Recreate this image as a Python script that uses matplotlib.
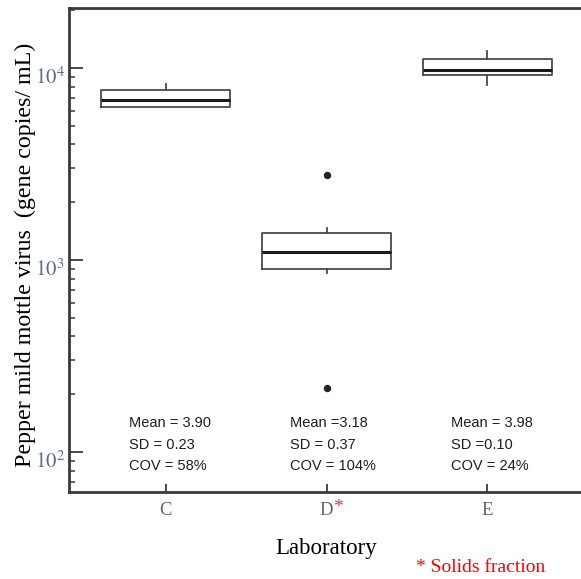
import matplotlib
matplotlib.use('Agg')
import matplotlib.pyplot as plt
import matplotlib.transforms as mtransforms
from matplotlib.ticker import LogLocator, NullFormatter

# ---- data ----
labs = ['C', 'D', 'E']
q1 = [6270, 895, 9160]
med = [6840, 1101, 9760]
q3 = [7650, 1377, 11100]
whislo = [6270, 853, 8190]
whishi = [8260, 1472, 12260]
fliers = [[], [2772, 215], []]
mean_txt = ['Mean = 3.90', 'Mean =3.18', 'Mean = 3.98']
sd_txt = ['SD = 0.23', 'SD = 0.37', 'SD =0.10']
cov_txt = ['COV = 58%', 'COV = 104%', 'COV = 24%']
ytick_vals = [1e2, 1e3, 1e4]
ytick_labels = [r'$10^2$', r'$10^3$', r'$10^4$']

plt.rcParams['mathtext.fontset'] = 'stix'
serif = ['Liberation Serif', 'DejaVu Serif']
sans = ['Liberation Sans', 'DejaVu Sans']

fig = plt.figure(figsize=(5.81, 5.79), dpi=100)
W, H = 581, 579
ax = fig.add_axes([69 / W, (H - 492) / H, (584 - 69) / W, 484 / H])

stats = []
for i in range(len(labs)):
    stats.append(dict(med=med[i], q1=q1[i], q3=q3[i], whislo=whislo[i],
                      whishi=whishi[i], fliers=fliers[i], label=labs[i]))
pos = list(range(1, len(labs) + 1))
lc = '#4a4a4a'
ax.bxp(stats, positions=pos, widths=0.8, showcaps=False,
       boxprops=dict(color=lc, linewidth=1.3),
       whiskerprops=dict(color=lc, linewidth=1.3),
       medianprops=dict(color='#1a1a1a', linewidth=2.2),
       flierprops=dict(marker='o', markerfacecolor='#222222',
                       markeredgecolor='#222222', markersize=4.3))

ax.set_yscale('log')
ax.set_ylim(61.9, 20535)
ax.set_xlim(0.4, 3.6)

ax.set_yticks(ytick_vals)
ax.set_yticklabels(ytick_labels)
ax.yaxis.set_minor_locator(LogLocator(base=10, subs=range(2, 10)))
ax.yaxis.set_minor_formatter(NullFormatter())
ax.set_xticks(pos)
ax.set_xticklabels(labs)

tickcol = '#3a3a3a'
ax.tick_params(axis='y', which='major', direction='in', length=10, width=1.3,
               color=tickcol, labelcolor='#5b6f8a', labelsize=15, pad=3)
ax.tick_params(axis='y', which='minor', direction='in', length=4.5, width=1.1,
               color=tickcol)
ax.tick_params(axis='x', which='major', direction='in', length=6, width=1.3,
               color=tickcol, labelcolor='#5e6470', labelsize=13.5, pad=7)
for lab in ax.get_xticklabels():
    lab.set_fontfamily(serif)

off = mtransforms.ScaledTranslation(0, -5 / 72, fig.dpi_scale_trans)
for lab in ax.get_yticklabels():
    lab.set_transform(lab.get_transform() + off)

for s in ['left', 'top', 'bottom']:
    ax.spines[s].set_linewidth(2.0)
    ax.spines[s].set_color('#3a3a3a')
ax.spines['right'].set_visible(False)

ax.set_ylabel('Pepper mild mottle virus  (gene copies/ mL)', fontsize=17.3,
              family=serif, color='black')
ax.yaxis.set_label_coords(-0.064, 0.49)
ax.set_xlabel('Laboratory', fontsize=16.5, family=serif, color='black')
ax.xaxis.set_label_coords(0.5, -0.095)

# stats text
ys = [0.1426, 0.0971, 0.0537]
for i in range(len(labs)):
    for txt, yy in zip([mean_txt[i], sd_txt[i], cov_txt[i]], ys):
        ax.text(pos[i] - 0.225, yy, txt, transform=ax.get_xaxis_transform(),
                ha='left', va='center', fontsize=10.5, family=sans,
                color='#1e1e1e')

# red asterisk on D
ax.annotate('*', xy=(pos[1], 0), xycoords=('data', 'axes fraction'),
            xytext=(8.5, -11), textcoords='offset points', ha='center',
            va='center', color='#ff2a4a', fontsize=14, family=serif,
            annotation_clip=False)

fig.text(416 / W, 1 - 567 / H, '* Solids fraction', color='#ff0000',
         fontsize=14, family=serif, ha='left', va='center')

fig.savefig('out.png', dpi=100)
